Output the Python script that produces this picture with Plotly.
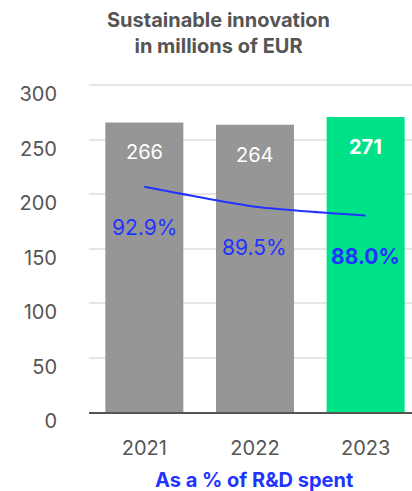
import plotly.graph_objects as go

years = ["2021", "2022", "2023"]
innovation_meur = [266, 264, 271]
rd_share_pct = [92.9, 89.5, 88.0]
y_ticks = [0, 50, 100, 150, 200, 250, 300]

GRAY = "#969696"
GREEN = "#00E288"
BLUE = "#2233FF"
TXT = "#555555"
FONT = "Inter, Lato, sans-serif"

bar_colors = [GRAY, GRAY, GREEN]

fig = go.Figure()
fig.add_trace(go.Bar(
    x=years, y=innovation_meur, marker_color=bar_colors,
    marker_line_width=0, width=0.705, hoverinfo="skip", showlegend=False,
))
fig.add_trace(go.Scatter(
    x=years, y=rd_share_pct, yaxis="y2", mode="lines",
    line=dict(color=BLUE, width=2, shape="spline", smoothing=0.6),
    hoverinfo="skip", showlegend=False,
))

L, T, R, B = 89, 80, 0, 79
pw, ph = 412 - L - R, 491 - T - B

annotations = []
for i, v in enumerate(innovation_meur):
    last = i == len(years) - 1
    annotations.append(dict(
        x=i, y=v, xref="x", yref="y", yshift=-30, showarrow=False,
        text=f"<b>{v}</b>" if last else str(v),
        font=dict(family=FONT, size=20, color="white"),
    ))
for i, p in enumerate(rd_share_pct):
    last = i == len(years) - 1
    t = f"{p:.1f}%"
    annotations.append(dict(
        x=i, y=p, xref="x", yref="y2", yshift=-41, showarrow=False,
        text=f"<b>{t}</b>" if last else t,
        font=dict(family=FONT, size=21, color=BLUE),
    ))
annotations.append(dict(
    x=(253.5 - L) / pw, y=(491 - B - 479.5) / ph, xref="paper", yref="paper",
    xanchor="center", yanchor="middle",
    showarrow=False, text="<b>As a % of R&D spent</b>",
    font=dict(family=FONT, size=20, color=BLUE),
))
annotations.append(dict(
    x=(218 - L) / pw, y=(491 - B - 33) / ph, xref="paper", yref="paper",
    xanchor="center", yanchor="middle",
    showarrow=False, text="<b>Sustainable innovation<br>in millions of EUR</b>",
    font=dict(family=FONT, size=20, color=TXT),
))

fig.update_layout(
    width=412, height=491,
    margin=dict(l=L, r=R, t=T, b=B),
    paper_bgcolor="white", plot_bgcolor="white",
    xaxis=dict(
        type="category",
        range=[-0.5, 2.419], showgrid=False, zeroline=False,
        showline=True, linecolor="#555555", linewidth=2,
        ticks="outside", ticklen=0, ticklabelstandoff=17,
        tickfont=dict(family=FONT, size=20, color=TXT),
    ),
    yaxis=dict(
        range=[0, 305], tickvals=y_ticks, showgrid=True,
        gridcolor="#E6E6E6", gridwidth=2, zeroline=False,
        ticks="outside", ticklen=0, ticklabelstandoff=27,
        ticklabelshift=9,
        tickfont=dict(family=FONT, size=20, color=TXT),
    ),
    yaxis2=dict(
        overlaying="y", range=[54.4, 111.15], visible=False,
    ),
    annotations=annotations,
)

fig.write_html("out.html", config={"displayModeBar": False},
               post_script="document.body.style.margin='0';")
